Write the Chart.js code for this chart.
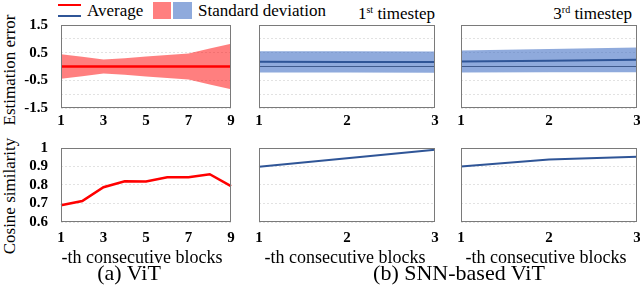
<!DOCTYPE html>
<html>
<head>
<meta charset="utf-8">
<script src="https://cdn.jsdelivr.net/npm/chart.js@4.4.0/dist/chart.umd.min.js"></script>
<style>
  html, body { margin: 0; padding: 0; background: #fff; }
  body { width: 640px; height: 291px; position: relative; overflow: hidden;
         font-family: 'Liberation Serif', 'Times New Roman', serif; color: #000; }
  canvas { position: absolute; }
  .txt { position: absolute; white-space: nowrap; line-height: 1; }
  .ctr { transform: translateX(-50%); }
  .rgt { transform: translateX(-100%); }
  .sw { position: absolute; }
  .rot { position: absolute; white-space: nowrap; line-height: 1; font-size: 17px;
         transform: translate(-50%, -50%) rotate(-90deg); }
  sup { font-size: 10px; vertical-align: 6px; line-height: 0; }
</style>
</head>
<body>

<!-- legend -->
<div class="sw" style="left:58px;top:4px;width:23px;height:2px;background:#ff0000"></div>
<div class="sw" style="left:58px;top:15px;width:23px;height:2px;background:#2f5597"></div>
<div class="txt" style="left:87px;top:2px;font-size:17px">Average</div>
<div class="sw" style="left:153px;top:2px;width:18px;height:17px;background:rgba(255,0,0,0.5)"></div>
<div class="sw" style="left:173px;top:2px;width:19px;height:17px;background:rgba(68,114,196,0.6)"></div>
<div class="txt" style="left:198px;top:2px;font-size:17px">Standard deviation</div>

<div class="txt rgt" style="left:435px;top:5px;font-size:17px">1<sup>st</sup> timestep</div>
<div class="txt rgt" style="left:632px;top:5px;font-size:17px">3<sup>rd</sup> timestep</div>

<div class="rot" style="left:9px;top:70px">Estimation error</div>
<div class="rot" style="left:9px;top:196px">Cosine similarity</div>

<canvas id="errVit"></canvas>
<canvas id="errSnn1"></canvas>
<canvas id="errSnn3"></canvas>
<canvas id="cosVit"></canvas>
<canvas id="cosSnn1"></canvas>
<canvas id="cosSnn3"></canvas>

<div class="txt ctr" style="left:142px;top:248px;font-size:18px">-th consecutive blocks</div>
<div class="txt ctr" style="left:345px;top:248px;font-size:18px">-th consecutive blocks</div>
<div class="txt ctr" style="left:546px;top:248px;font-size:18px">-th consecutive blocks</div>

<div class="txt ctr" style="left:129px;top:262px;font-size:22px">(a) ViT</div>
<div class="txt ctr" style="left:459px;top:262px;font-size:22px">(b) SNN-based ViT</div>

<script>
// x categories
const blocksVit = ['1', '2', '3', '4', '5', '6', '7', '8', '9'];
const blocksSnn = ['1', '2', '3'];

// estimation error: average and standard deviation
const vitErrMean = [0, 0, 0, 0, 0, 0, 0, 0, 0];
const vitErrStd = [0.44, 0.35, 0.25, 0.30, 0.36, 0.42, 0.47, 0.65, 0.82];
const snn1ErrMean = [0.17, 0.165, 0.16];
const snn1ErrStd = [0.385, 0.385, 0.385];
const snn3ErrMean = [0.18, 0.21, 0.24];
const snn3ErrStd = [0.40, 0.42, 0.45];

// cosine similarity
const vitCos = [0.69, 0.713, 0.788, 0.82, 0.819, 0.842, 0.842, 0.858, 0.794];
const snn1Cos = [0.899, 0.945, 0.991];
const snn3Cos = [0.90, 0.938, 0.953];

const RED = '#ff0000';
const RED_BAND = 'rgba(255,0,0,0.5)';
const BLUE = '#2f5597';
const BLUE_BAND = 'rgba(68,114,196,0.6)';
const tickFont = { family: "'Liberation Serif', 'Times New Roman', serif", size: 15, weight: 'bold' };

const plus = (m, s) => m.map((v, i) => v + s[i]);
const minus = (m, s) => m.map((v, i) => v - s[i]);

// рамка вокруг области графика
const boxPlugin = {
    id: 'box',
    afterDatasetsDraw(chart) {
        const a = chart.chartArea;
        const c = chart.ctx;
        c.save();
        c.strokeStyle = '#7a7a7a';
        c.lineWidth = 1;
        c.strokeRect(Math.round(a.left) + 0.5, Math.round(a.top) + 0.5,
                     Math.round(a.right - a.left) - 1, Math.round(a.bottom - a.top) - 1);
        c.restore();
    }
};

function errDatasets(mean, std, lineColor, bandColor, zeroLine) {
    const sets = [
        { data: mean, borderColor: lineColor, borderWidth: lineColor === RED ? 2.5 : 2, fill: false },
        { data: plus(mean, std), borderWidth: 0, borderColor: 'transparent', backgroundColor: bandColor, fill: '+1' },
        { data: minus(mean, std), borderWidth: 0, borderColor: 'transparent', fill: false }
    ];
    if (zeroLine) {
        sets.push({ data: mean.map(() => 0), borderColor: '#3a3a3a', borderWidth: 1, fill: false });
    }
    return sets;
}

function makePanel(id, plot, cfg) {
    const yW = cfg.yLabels ? plot.l : 10;
    const padTop = 10, padRight = 8;
    const cv = document.getElementById(id);
    const w = yW + (plot.r - plot.l) + padRight;
    const h = padTop + (plot.b - plot.t) + cfg.xH;
    cv.width = w;
    cv.height = h;
    cv.style.left = (plot.l - yW) + 'px';
    cv.style.top = (plot.t - padTop) + 'px';

    return new Chart(cv, {
        type: 'line',
        data: { labels: cfg.labels, datasets: cfg.datasets },
        options: {
            responsive: false,
            animation: false,
            layout: { padding: { top: padTop, right: padRight, left: 0, bottom: 0 } },
            plugins: { legend: { display: false }, tooltip: { enabled: false } },
            elements: { point: { radius: 0 }, line: { tension: 0 } },
            scales: {
                x: {
                    grid: { display: false },
                    border: { display: false },
                    ticks: {
                        autoSkip: false, maxRotation: 0, padding: cfg.xPad,
                        font: tickFont, color: '#000',
                        callback: function(v, i) {
                            if (cfg.labels.length > 3 && i % 2 === 1) return '';
                            return cfg.labels[i];
                        }
                    },
                    afterFit: s => { s.height = cfg.xH; }
                },
                y: {
                    min: cfg.min, max: cfg.max,
                    grid: { color: '#e2e2e2', drawTicks: false, lineWidth: 1 },
                    border: { display: false, dash: [2, 2] },
                    ticks: {
                        display: cfg.yLabels, stepSize: cfg.step, padding: 13, autoSkip: false,
                        font: tickFont, color: '#000',
                        callback: cfg.yFmt
                    },
                    // fixed width, no extra vertical padding from tick labels
                    afterFit: s => { s.width = yW; s.paddingTop = 0; s.paddingBottom = 0; }
                }
            }
        },
        plugins: [boxPlugin]
    });
}

const errFmt = v => {
    const r = Math.round(v * 10) / 10;
    return Math.abs(Math.abs(r) - 0.5) < 1e-6 || Math.abs(Math.abs(r) - 1.5) < 1e-6 ? r.toFixed(1) : '';
};
const cosFmt = v => {
    const r = Math.round(v * 10) / 10;
    return r === 1 ? '1' : r.toFixed(1);
};

const rowTop = { t: 25, b: 108, xH: 30, xPad: -4 };
const rowBot = { t: 148, b: 222, xH: 30, xPad: -1 };

makePanel('errVit', { l: 61, r: 231, t: rowTop.t, b: rowTop.b }, {
    labels: blocksVit, datasets: errDatasets(vitErrMean, vitErrStd, RED, RED_BAND, false),
    min: -1.5, max: 1.5, step: 0.5, yLabels: true, yFmt: errFmt, xH: rowTop.xH, xPad: rowTop.xPad
});
makePanel('errSnn1', { l: 259, r: 435, t: rowTop.t, b: rowTop.b }, {
    labels: blocksSnn, datasets: errDatasets(snn1ErrMean, snn1ErrStd, BLUE, BLUE_BAND, true),
    min: -1.5, max: 1.5, step: 0.5, yLabels: false, yFmt: errFmt, xH: rowTop.xH, xPad: rowTop.xPad
});
makePanel('errSnn3', { l: 461, r: 637, t: rowTop.t, b: rowTop.b }, {
    labels: blocksSnn, datasets: errDatasets(snn3ErrMean, snn3ErrStd, BLUE, BLUE_BAND, true),
    min: -1.5, max: 1.5, step: 0.5, yLabels: false, yFmt: errFmt, xH: rowTop.xH, xPad: rowTop.xPad
});

makePanel('cosVit', { l: 61, r: 231, t: rowBot.t, b: rowBot.b }, {
    labels: blocksVit, datasets: [{ data: vitCos, borderColor: RED, borderWidth: 2.5, fill: false }],
    min: 0.6, max: 1, step: 0.1, yLabels: true, yFmt: cosFmt, xH: rowBot.xH, xPad: rowBot.xPad
});
makePanel('cosSnn1', { l: 259, r: 435, t: rowBot.t, b: rowBot.b }, {
    labels: blocksSnn, datasets: [{ data: snn1Cos, borderColor: BLUE, borderWidth: 2, fill: false }],
    min: 0.6, max: 1, step: 0.1, yLabels: false, yFmt: cosFmt, xH: rowBot.xH, xPad: rowBot.xPad
});
makePanel('cosSnn3', { l: 461, r: 637, t: rowBot.t, b: rowBot.b }, {
    labels: blocksSnn, datasets: [{ data: snn3Cos, borderColor: BLUE, borderWidth: 2, fill: false }],
    min: 0.6, max: 1, step: 0.1, yLabels: false, yFmt: cosFmt, xH: rowBot.xH, xPad: rowBot.xPad
});
</script>
</body>
</html>
